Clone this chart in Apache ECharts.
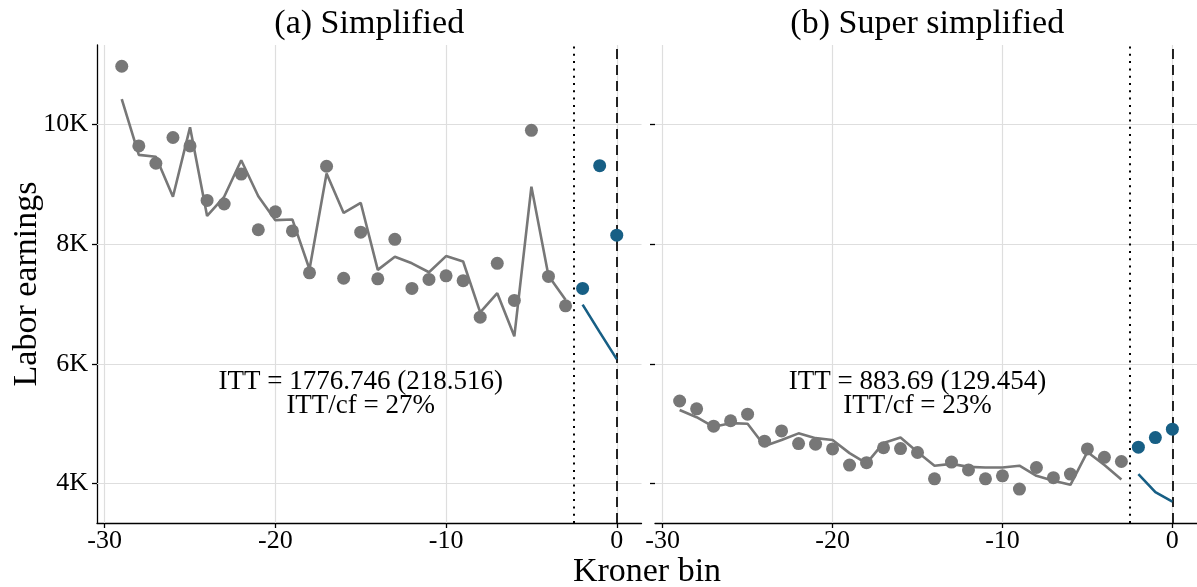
<!DOCTYPE html>
<html><head><meta charset="utf-8">
<script src="https://cdn.jsdelivr.net/npm/echarts@6/dist/echarts.min.js"></script>
<style>html,body{margin:0;padding:0;background:#fff}#c{width:1197px;height:587px}</style>
</head><body><div id="c"></div><script>
// ---- data ----
const bins = [-29,-28,-27,-26,-25,-24,-23,-22,-21,-20,-19,-18,-17,-16,-15,-14,-13,-12,-11,-10,-9,-8,-7,-6,-5,-4,-3];
const postBins = [-2,-1,0];
const xTicks = [-30,-20,-10,0];
const yTicks = [4000,6000,8000,10000];
const panelTitles = ['(a) Simplified','(b) Super simplified'];
const xTitle = 'Kroner bin';
const yTitle = 'Labor earnings';

const aDots = [10970,9640,9350,9780,9640,8730,8670,9170,8240,8540,8220,7520,9300,7430,8200,7420,8080,7260,7410,7470,7390,6780,7680,7060,9900,7460,6970];
const aFit  = [10420,9490,9460,8790,9950,8470,8790,9400,8800,8400,8410,7580,9180,8520,8690,7570,7790,7680,7530,7800,7710,6860,7180,6460,8960,7470,7070];
const aPostDots = [7260,9310,8150];
const aPostFit  = [6990,6530,6080];

const bDots = [5380,5250,4960,5050,5160,4710,4880,4670,4660,4580,4310,4350,4600,4585,4520,4080,4360,4230,4080,4130,3910,4270,4100,4160,4580,4440,4370];
const bFit  = [5230,5110,4950,5010,5000,4630,4730,4840,4760,4730,4510,4340,4680,4770,4530,4300,4330,4280,4270,4270,4300,4130,4050,3980,4530,4310,4070];
const bPostDots = [4610,4770,4910];
const bPostFit  = [4160,3860,3700];

const annotText = [['ITT = 1776.746 (218.516)','ITT/cf = 27%'],['ITT = 883.69 (129.454)','ITT/cf = 23%']];
const annotX = -15, annotY = 5500;
const dottedX = -2.5, dashedX = 0;

// ---- chart ----
const FONT = '"Liberation Serif", "Times New Roman", serif';
const GRAY = '#777777', BLUE = '#175f85', GRID = '#dedede';
const X_MIN = -30.45, X_MAX = 1.45, Y_MIN = 3343, Y_MAX = 11325;

const panels = [
  {dots:aDots, fit:aFit, pdots:aPostDots, pfit:aPostFit, text:annotText[0]},
  {dots:bDots, fit:bFit, pdots:bPostDots, pfit:bPostFit, text:annotText[1]}
];
const grids = [
  {left:97, top:45, width:544.5, height:478},
  {left:655, top:45, width:544.5, height:478}
];

const xAxes = [], yAxes = [], series = [];
panels.forEach((p, k) => {
  xAxes.push({
    type:'value', gridIndex:k, min:X_MIN, max:X_MAX,
    axisLine:{show:true, onZero:false, lineStyle:{color:'#000', width:1.3}},
    axisTick:{show:true, length:5, customValues:xTicks, lineStyle:{color:'#000', width:1.3}},
    axisLabel:{show:true, customValues:xTicks, fontSize:26, fontFamily:FONT, color:'#000', margin:5,
      formatter:v=>String(v)},
    splitLine:{show:false}
  });
  yAxes.push({
    type:'value', gridIndex:k, min:Y_MIN, max:Y_MAX,
    axisLine:{show:k===0, onZero:false, lineStyle:{color:'#000', width:1.3}},
    axisTick:{show:true, length:5, customValues:yTicks, lineStyle:{color:'#000', width:1.3}},
    axisLabel:{show:k===0, customValues:yTicks, fontSize:26, fontFamily:FONT, color:'#000', margin:9,
      formatter:v=>(v/1000)+'K'},
    splitLine:{show:false}
  });
  // gridlines
  series.push({
    type:'line', xAxisIndex:k, yAxisIndex:k, data:[], z:1, silent:true,
    markLine:{silent:true, symbol:['none','none'], label:{show:false}, animation:false, z:1,
      lineStyle:{color:GRID, width:1.2, type:'solid'},
      data: xTicks.map(v=>({xAxis:v})).concat(yTicks.map(v=>({yAxis:v})))}
  });
  // cutoff lines
  series.push({
    type:'line', xAxisIndex:k, yAxisIndex:k, data:[], z:2, silent:true,
    markLine:{silent:true, symbol:['none','none'], label:{show:false}, animation:false, z:2,
      data:[
        {xAxis:dottedX, lineStyle:{color:'#000', width:2, type:[2,5.3]}},
        {xAxis:dashedX, lineStyle:{color:'#000', width:1.7, type:[10,6]}}
      ]}
  });
  series.push({type:'line', xAxisIndex:k, yAxisIndex:k, z:3, symbol:'none', animation:false,
    data: bins.map((b,i)=>[b, p.fit[i]]), lineStyle:{color:GRAY, width:2.6}});
  series.push({type:'line', xAxisIndex:k, yAxisIndex:k, z:3, symbol:'none', animation:false,
    data: postBins.map((b,i)=>[b, p.pfit[i]]), lineStyle:{color:BLUE, width:2.6}});
  series.push({type:'scatter', xAxisIndex:k, yAxisIndex:k, z:4, symbolSize:13, animation:false,
    data: bins.map((b,i)=>[b, p.dots[i]]), itemStyle:{color:GRAY, opacity:1}});
  series.push({type:'scatter', xAxisIndex:k, yAxisIndex:k, z:4, symbolSize:13, animation:false,
    data: postBins.map((b,i)=>[b, p.pdots[i]]), itemStyle:{color:BLUE, opacity:1}});
  series.push({type:'scatter', xAxisIndex:k, yAxisIndex:k, z:5, symbolSize:1, animation:false, silent:true,
    data:[[annotX, annotY]], itemStyle:{color:'rgba(0,0,0,0)'},
    label:{show:true, position:'inside', formatter:p.text.join('\n'), fontSize:27, lineHeight:24.5,
      fontFamily:FONT, color:'#000', opacity:1, textBorderWidth:0, textBorderColor:'transparent',
      textShadowBlur:0, align:'center', verticalAlign:'middle'}});
});

const chart = echarts.init(document.getElementById('c'), null, {renderer:'canvas'});
chart.setOption({
  animation:false,
  backgroundColor:'#fff',
  grid:grids, xAxis:xAxes, yAxis:yAxes, series:series,
  graphic:[
    {type:'text', x:grids[0].left+grids[0].width/2, y:24, style:{text:panelTitles[0], font:'34px '+FONT, fill:'#000', align:'center', verticalAlign:'middle', textAlign:'center', textVerticalAlign:'middle'}},
    {type:'text', x:grids[1].left+grids[1].width/2, y:24, style:{text:panelTitles[1], font:'34px '+FONT, fill:'#000', align:'center', verticalAlign:'middle', textAlign:'center', textVerticalAlign:'middle'}},
    {type:'text', x:647, y:572, style:{text:xTitle, font:'34px '+FONT, fill:'#000', align:'center', verticalAlign:'middle', textAlign:'center', textVerticalAlign:'middle'}},
    {type:'text', x:27, y:284, rotation:Math.PI/2, style:{text:yTitle, font:'34px '+FONT, fill:'#000', align:'center', verticalAlign:'middle', textAlign:'center', textVerticalAlign:'middle'}}
  ]
});
</script></body></html>
